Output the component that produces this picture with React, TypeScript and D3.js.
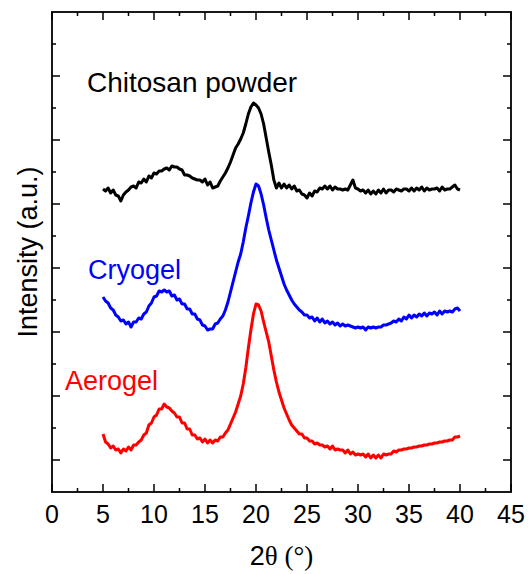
import React from "react";
import * as d3 from "d3";

const twoTheta = [
  5, 5.25, 5.5, 5.75, 6, 6.25, 6.5, 6.75, 7, 7.25, 7.5, 7.75, 8, 8.25, 8.5, 8.75,
  9, 9.25, 9.5, 9.75, 10, 10.25, 10.5, 10.75, 11, 11.25, 11.5, 11.75, 12, 12.25, 12.5, 12.75,
  13, 13.25, 13.5, 13.75, 14, 14.25, 14.5, 14.75, 15, 15.25, 15.5, 15.75, 16, 16.25, 16.5, 16.75,
  17, 17.25, 17.5, 17.75, 18, 18.25, 18.5, 18.75, 19, 19.25, 19.5, 19.75, 20, 20.25, 20.5, 20.75,
  21, 21.25, 21.5, 21.75, 22, 22.25, 22.5, 22.75, 23, 23.25, 23.5, 23.75, 24, 24.25, 24.5, 24.75,
  25, 25.25, 25.5, 25.75, 26, 26.25, 26.5, 26.75, 27, 27.25, 27.5, 27.75, 28, 28.25, 28.5, 28.75,
  29, 29.25, 29.5, 29.75, 30, 30.25, 30.5, 30.75, 31, 31.25, 31.5, 31.75, 32, 32.25, 32.5, 32.75,
  33, 33.25, 33.5, 33.75, 34, 34.25, 34.5, 34.75, 35, 35.25, 35.5, 35.75, 36, 36.25, 36.5, 36.75,
  37, 37.25, 37.5, 37.75, 38, 38.25, 38.5, 38.75, 39, 39.25, 39.5, 39.75, 40,
];

const chitosanPowder = [
  303, 301, 304, 299, 302, 297, 296, 291, 297, 300, 302, 305, 306, 304, 310, 309,
  313, 310, 316, 314, 319, 318, 321, 321, 323, 324, 322, 326, 325, 325, 323, 322,
  317, 317, 316, 314, 313, 312, 312, 310, 313, 307, 310, 304, 305, 306, 311, 315,
  319, 324, 330, 337, 344, 348, 353, 359, 368, 378, 385, 389, 387, 384, 378, 368,
  354, 340, 327, 312, 304, 309, 304, 308, 304, 307, 303, 306, 301, 302, 298, 297,
  294, 299, 296, 301, 300, 304, 303, 306, 303, 306, 302, 305, 303, 303, 302, 303,
  302, 307, 312, 304, 303, 301, 302, 299, 302, 298, 301, 298, 302, 299, 303, 299,
  302, 302, 300, 303, 302, 301, 303, 303, 301, 304, 301, 304, 302, 305, 301, 304,
  302, 303, 303, 304, 301, 305, 302, 303, 303, 305, 307, 303, 302,
];

const cryogel = [
  195, 191, 189, 184, 182, 177, 175, 171, 172, 168, 170, 165, 170, 170, 174, 173,
  178, 180, 186, 189, 195, 196, 201, 200, 202, 200, 201, 196, 197, 192, 193, 188,
  188, 183, 183, 178, 178, 173, 172, 167, 166, 162, 163, 163, 168, 169, 173, 176,
  182, 190, 200, 210, 220, 230, 238, 250, 264, 276, 289, 300, 308, 306, 298, 287,
  274, 262, 252, 242, 232, 224, 216, 208, 202, 197, 192, 188, 185, 182, 180, 177,
  177, 174, 175, 171, 174, 170, 173, 169, 171, 168, 170, 167, 169, 166, 168, 166,
  167, 166, 165, 164, 165, 164, 165, 162, 165, 164, 165, 164, 165, 165, 167, 167,
  168, 169, 171, 170, 173, 171, 175, 173, 177, 174, 177, 175, 178, 176, 179, 176,
  179, 178, 180, 177, 181, 178, 181, 180, 181, 180, 183, 184, 181,
];

const aerogel = [
  58, 50, 48, 44, 46, 42, 43, 39, 43, 41, 45, 42, 47, 47, 50, 52,
  57, 59, 67, 69, 75, 77, 83, 83, 88, 85, 84, 81, 79, 75, 75, 69,
  69, 63, 63, 57, 57, 53, 54, 50, 53, 49, 52, 49, 52, 51, 55, 55,
  59, 62, 68, 74, 80, 88, 96, 108, 124, 144, 162, 178, 188, 187, 181, 170,
  160, 150, 136, 122, 110, 100, 92, 84, 78, 72, 67, 64, 61, 58, 58, 54,
  54, 51, 51, 48, 49, 47, 47, 45, 46, 43, 46, 42, 43, 42, 42, 39,
  42, 38, 40, 37, 38, 37, 38, 35, 38, 34, 37, 34, 37, 34, 38, 37,
  38, 38, 41, 40, 42, 42, 43, 43, 44, 44, 45, 45, 46, 46, 47, 47,
  48, 48, 49, 49, 50, 50, 51, 51, 52, 52, 55, 55, 56,
];

const seriesNames = ["Chitosan powder", "Cryogel", "Aerogel"];
const seriesColors = ["#000000", "#0000ff", "#ff0000"];

const xMajorTicks = [0, 5, 10, 15, 20, 25, 30, 35, 40, 45];
const xMinorTicks = [2.5, 7.5, 12.5, 17.5, 22.5, 27.5, 32.5, 37.5, 42.5];
const yMajorTicks = [32, 96, 160, 224, 288, 352, 416];
const yMinorTicks = [64, 128, 192, 256, 320, 384, 448];

const W = 529;
const H = 574;
const left = 52;
const right = 511;
const top = 12;
const bottom = 492;
const SANS = "'Liberation Sans', Arial, sans-serif";
const SERIF = "'Liberation Serif', 'Times New Roman', serif";

export default function App() {
  const x = d3.scaleLinear().domain([0, 45]).range([left, right]);
  const y = d3.scaleLinear().domain([0, 480]).range([bottom, top]);
  const series = [chitosanPowder, cryogel, aerogel];
  const line = d3
    .line<number>()
    .x((_, i) => x(twoTheta[i]))
    .y((d) => y(d));

  const majorLen = 8;
  const minorLen = 4;

  const labelPos = [
    { x: 87, y: 92, size: 28 },
    { x: 88, y: 279, size: 27 },
    { x: 65, y: 390, size: 27 },
  ];

  return (
    <svg width={W} height={H} style={{ position: "absolute", left: 0, top: 0, background: "#fff" }}>
      <rect x={0} y={0} width={W} height={H} fill="#fff" />
      {series.map((s, k) => (
        <path
          key={k}
          d={line(s) || ""}
          fill="none"
          stroke={seriesColors[k]}
          strokeWidth={3}
          strokeLinejoin="round"
        />
      ))}
      <g stroke="#000" strokeWidth={1.5}>
        {xMajorTicks.map((t) => (
          <g key={"xm" + t}>
            <line x1={x(t)} x2={x(t)} y1={bottom} y2={bottom - majorLen} />
            <line x1={x(t)} x2={x(t)} y1={top} y2={top + majorLen} />
          </g>
        ))}
        {xMinorTicks.map((t) => (
          <g key={"xn" + t}>
            <line x1={x(t)} x2={x(t)} y1={bottom} y2={bottom - minorLen} />
            <line x1={x(t)} x2={x(t)} y1={top} y2={top + minorLen} />
          </g>
        ))}
        {yMajorTicks.map((t) => (
          <g key={"ym" + t}>
            <line x1={left} x2={left + majorLen} y1={y(t)} y2={y(t)} />
            <line x1={right} x2={right - majorLen} y1={y(t)} y2={y(t)} />
          </g>
        ))}
        {yMinorTicks.map((t) => (
          <g key={"yn" + t}>
            <line x1={left} x2={left + minorLen} y1={y(t)} y2={y(t)} />
            <line x1={right} x2={right - minorLen} y1={y(t)} y2={y(t)} />
          </g>
        ))}
      </g>
      <rect x={left} y={top} width={right - left} height={bottom - top} fill="none" stroke="#000" strokeWidth={1.8} />
      {xMajorTicks.map((t) => (
        <text key={"xl" + t} x={x(t)} y={523} textAnchor="middle" fontFamily={SANS} fontSize={25} fill="#000">
          {t}
        </text>
      ))}
      <text x={(left + right) / 2} y={565} textAnchor="middle" fontSize={27} fill="#000">
        <tspan fontFamily={SANS}>2</tspan>
        <tspan fontFamily={SERIF}>θ (°)</tspan>
      </text>
      <text
        transform={`translate(37, 252) rotate(-90)`}
        textAnchor="middle"
        fontFamily={SANS}
        fontSize={27}
        fill="#000"
      >
        Intensity (a.u.)
      </text>
      {seriesNames.map((n, k) => (
        <text
          key={n}
          x={labelPos[k].x}
          y={labelPos[k].y}
          fontFamily={SANS}
          fontSize={labelPos[k].size}
          fill={seriesColors[k]}
        >
          {n}
        </text>
      ))}
    </svg>
  );
}
